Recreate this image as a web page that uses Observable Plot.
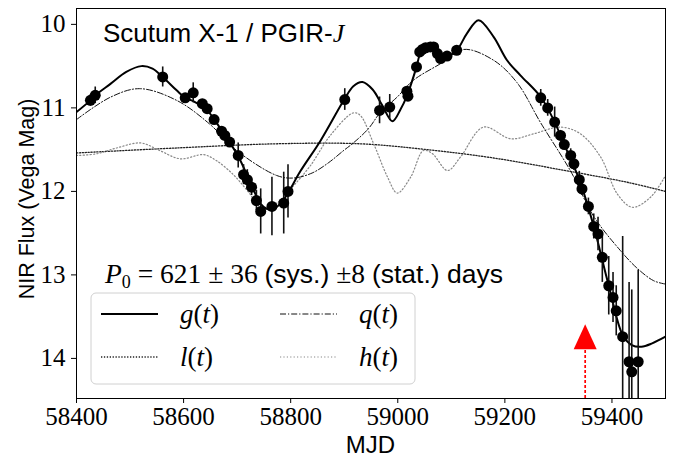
<!DOCTYPE html>
<html>
<head>
<meta charset="utf-8">
<script src="https://cdn.jsdelivr.net/npm/d3@7"></script>
<script src="https://cdn.jsdelivr.net/npm/@observablehq/plot@0.6"></script>
<style>
  body { margin: 0; background: #fff; }
  #chart { position: relative; width: 678px; height: 458px; }
  svg { display: block; }
</style>
</head>
<body>
<div id="chart"></div>
<script>
// Observed data points (MJD, J magnitude, error)
const obsMJD = [58426,58435,58561,58603,58618,58635,58644,58657,58671,58677,58686,58702,58712,58719,58727,58736,58744,58765,58787,58795,
  58901,58966,58985,59017,59019,59035,59041,59046,59052,59061,59067,59074,59080,59092,59110,
  59267,59280,59293,59304,59311,59323,59329,59339,59344,59356,59366,59374,59382,59394,59402,59408,59420,59432,59437,59449];
const obsMag = [10.91,10.85,10.63,10.88,10.82,10.95,11.01,11.14,11.28,11.33,11.41,11.57,11.80,11.86,11.95,12.11,12.24,12.18,12.14,12.00,
  10.90,11.03,10.99,10.80,10.86,10.51,10.33,10.30,10.28,10.27,10.27,10.35,10.41,10.38,10.31,
  10.88,11.00,11.17,11.33,11.44,11.57,11.67,11.86,11.97,12.18,12.42,12.51,12.79,13.13,13.27,13.43,13.74,14.04,14.16,14.04];
const obsErr = [0.07,0.10,0.12,0.04,0.12,0.05,0.05,0.05,0.05,0.05,0.05,0.15,0.12,0.12,0.10,0.12,0.27,0.35,0.37,0.32,
  0.13,0.16,0.15,0.04,0.04,0.03,0.03,0.03,0.03,0.03,0.03,0.03,0.03,0.03,0.03,
  0.10,0.10,0.18,0.06,0.06,0.08,0.08,0.10,0.08,0.10,0.15,0.20,0.30,0.35,0.30,0.30,1.20,0.95,0.98,1.10];

// g(t): full model
const gT = [58400,58426,58435,58464,58493,58521,58542,58561,58587,58603,58618,58644,58671,58702,58727,58744,58756,58773,58790,58818,58856,58900,58917,58934,58953,58971,58990,59005,59018,59035,59042,59050,59061,59074,59085,59110,59129,59151,59179,59204,59229,59267,59293,59311,59339,59366,59394,59420,59437,59455,59475,59500];
const gM = [11.05,10.91,10.85,10.71,10.57,10.50,10.53,10.63,10.79,10.88,10.92,11.03,11.27,11.58,11.93,12.15,12.21,12.19,12.07,11.76,11.39,10.90,10.74,10.69,10.78,10.97,11.16,11.02,10.84,10.51,10.35,10.30,10.28,10.35,10.40,10.31,10.11,9.95,10.15,10.43,10.61,10.87,11.17,11.44,11.86,12.42,13.13,13.72,13.84,13.86,13.82,13.74];
// q(t)
const qT = [58400,58464,58518,58587,58648,58699,58774,58805,58840,58870,58899,58917,58945,58968,58999,59029,59080,59123,59179,59223,59267,59323,59366,59416,59447,59478,59500];
const qM = [11.14,10.87,10.77,10.91,11.19,11.51,11.81,11.84,11.78,11.66,11.51,11.42,11.25,11.05,10.87,10.67,10.47,10.30,10.43,10.70,11.18,11.76,12.30,12.71,12.92,13.07,13.11];
// l(t)
const lT = [58400,58587,58773,58930,59055,59179,59304,59428,59500];
const lM = [11.54,11.48,11.43,11.43,11.50,11.60,11.74,11.89,12.00];
// h(t)
const hT = [58400,58437,58475,58520,58555,58594,58637,58661,58693,58719,58747,58772,58800,58837,58874,58917,58930,58955,58981,58999,59024,59048,59065,59093,59117,59160,59211,59254,59304,59341,59379,59410,59438,59472,59500];
const hM = [11.57,11.55,11.48,11.42,11.51,11.61,11.56,11.63,11.80,11.99,12.20,12.15,11.97,11.69,11.33,11.06,11.09,11.43,11.83,12.02,11.83,11.51,11.55,11.75,11.59,11.23,11.37,11.31,11.23,11.31,11.59,12.03,12.19,12.07,11.81];

const xTicks = [58400,58600,58800,59000,59200,59400];
const yTicks = [10,11,12,13,14];
const arrowMJD = 59350;

const obs = obsMJD.map((t,i)=>({t, m: obsMag[i], e: obsErr[i]}));
const toRows = (T,M)=>T.map((t,i)=>({t, m: M[i]}));
const gRows = toRows(gT,gM), qRows = toRows(qT,qM), lRows = toRows(lT,lM), hRows = toRows(hT,hM);

const headSymbol = { draw(ctx){ ctx.moveTo(0,-12.5); ctx.lineTo(11.5,12.5); ctx.lineTo(-11.5,12.5); ctx.closePath(); } };

const SANS = "Liberation Sans", SERIF = "Liberation Serif";

const chart = Plot.plot({
  width: 678, height: 458,
  marginLeft: 76, marginRight: 13, marginTop: 8, marginBottom: 60,
  style: {background: "white", color: "black"},
  x: {domain: [58400, 59500]},
  y: {domain: [9.81, 14.48], reverse: true},
  marks: [
    Plot.line(lRows, {x:"t", y:"m", stroke:"#222", strokeWidth:1.3, strokeDasharray:"1.3,1.6", curve:"catmull-rom", clip:true}),
    Plot.line(hRows, {x:"t", y:"m", stroke:"#888", strokeWidth:1.2, strokeDasharray:"1.2,2.2", curve:"catmull-rom", clip:true}),
    Plot.line(qRows, {x:"t", y:"m", stroke:"#111", strokeWidth:1, strokeDasharray:"6,2,1.2,2", curve:"catmull-rom", clip:true}),
    Plot.line(gRows, {x:"t", y:"m", stroke:"black", strokeWidth:2, curve:"catmull-rom", clip:true}),
    Plot.ruleX(obs, {x:"t", y1:d=>d.m-d.e, y2:d=>d.m+d.e, stroke:"#111", strokeWidth:1.6, clip:true}),
    Plot.dot(obs, {x:"t", y:"m", r:5.5, fill:"black", stroke:"none", clip:true}),
    Plot.ruleX([arrowMJD], {x:d=>d, y1:14.48, y2:13.88, stroke:"red", strokeWidth:1.7, strokeDasharray:"3,2"}),
    Plot.dot([arrowMJD], {x:d=>d, y:13.74, symbol: headSymbol, r:5, fill:"red", stroke:"none"}),
    Plot.axisX({ticks: xTicks, tickFormat: d=>String(d), tickSize:5, tickPadding:4, label:null, fontSize:25}),
    Plot.axisY({ticks: yTicks, tickFormat: d=>String(d), tickSize:5, tickPadding:6, label:null, fontSize:25}),
    Plot.frame({stroke:"black", strokeWidth:1})
  ]
});
document.getElementById("chart").appendChild(chart);

const svg = d3.select(chart);
// tick labels in serif (math-like) font
svg.selectAll("text").attr("font-family", SERIF).style("font-family", `"${SERIF}", serif`);

// Axis labels
svg.append("text").attr("x", 370.5).attr("y", 453).attr("text-anchor","middle")
  .attr("font-family", SANS).attr("font-size", 24).attr("fill","black").text("MJD");
svg.append("text").attr("transform","translate(34,199) rotate(-90)").attr("text-anchor","middle")
  .attr("font-family", SANS).attr("font-size", 21.5).attr("fill","black").text("NIR Flux (Vega Mag)");

// Title
const title = svg.append("text").attr("x",103).attr("y",42).attr("text-anchor","start")
  .attr("font-family",SANS).attr("font-size",26).attr("fill","black");
title.append("tspan").text("Scutum X-1 / PGIR-");
title.append("tspan").attr("font-family",SERIF).attr("font-style","italic").text("J");

// Period annotation
const ann = svg.append("text").attr("x",105).attr("y",283).attr("text-anchor","start")
  .attr("font-size",27.5).attr("fill","black").attr("font-family",SERIF);
ann.append("tspan").attr("font-style","italic").text("P");
ann.append("tspan").attr("font-size",18).attr("dy",5).text("0");
ann.append("tspan").attr("dy",-5).text(" = 621 ± 36 ");
ann.append("tspan").attr("font-family",SANS).attr("font-size",26.5).text("(sys.)");
ann.append("tspan").text(" ±8 ");
ann.append("tspan").attr("font-family",SANS).attr("font-size",26.5).text("(stat.)");
ann.append("tspan").attr("font-family",SANS).attr("font-size",26.5).text(" days");

// Legend
const lg = svg.append("g");
lg.append("rect").attr("x",91).attr("y",293).attr("width",324).attr("height",91).attr("rx",5)
  .attr("fill","white").attr("fill-opacity",0.8).attr("stroke","#d0d0d0").attr("stroke-width",1);
const items = [
  {x:101, y:314, label:"g(t)", stroke:"black", w:2, dash:null},
  {x:280, y:314, label:"q(t)", stroke:"#111", w:1, dash:"6,2,1.2,2"},
  {x:101, y:357, label:"l(t)", stroke:"#222", w:1.3, dash:"1.3,1.6"},
  {x:280, y:357, label:"h(t)", stroke:"#888", w:1.2, dash:"1.2,2.2"}
];
for (const it of items) {
  lg.append("line").attr("x1",it.x).attr("x2",it.x+57).attr("y1",it.y).attr("y2",it.y)
    .attr("stroke",it.stroke).attr("stroke-width",it.w).attr("stroke-dasharray",it.dash);
  const t = lg.append("text").attr("x",it.x+79).attr("y",it.y+9).attr("text-anchor","start")
    .attr("font-family",SERIF).attr("font-size",27).attr("fill","black");
  t.append("tspan").attr("font-style","italic").text(it.label[0]);
  t.append("tspan").text("(");
  t.append("tspan").attr("font-style","italic").text("t");
  t.append("tspan").text(")");
}
</script>
</body>
</html>
